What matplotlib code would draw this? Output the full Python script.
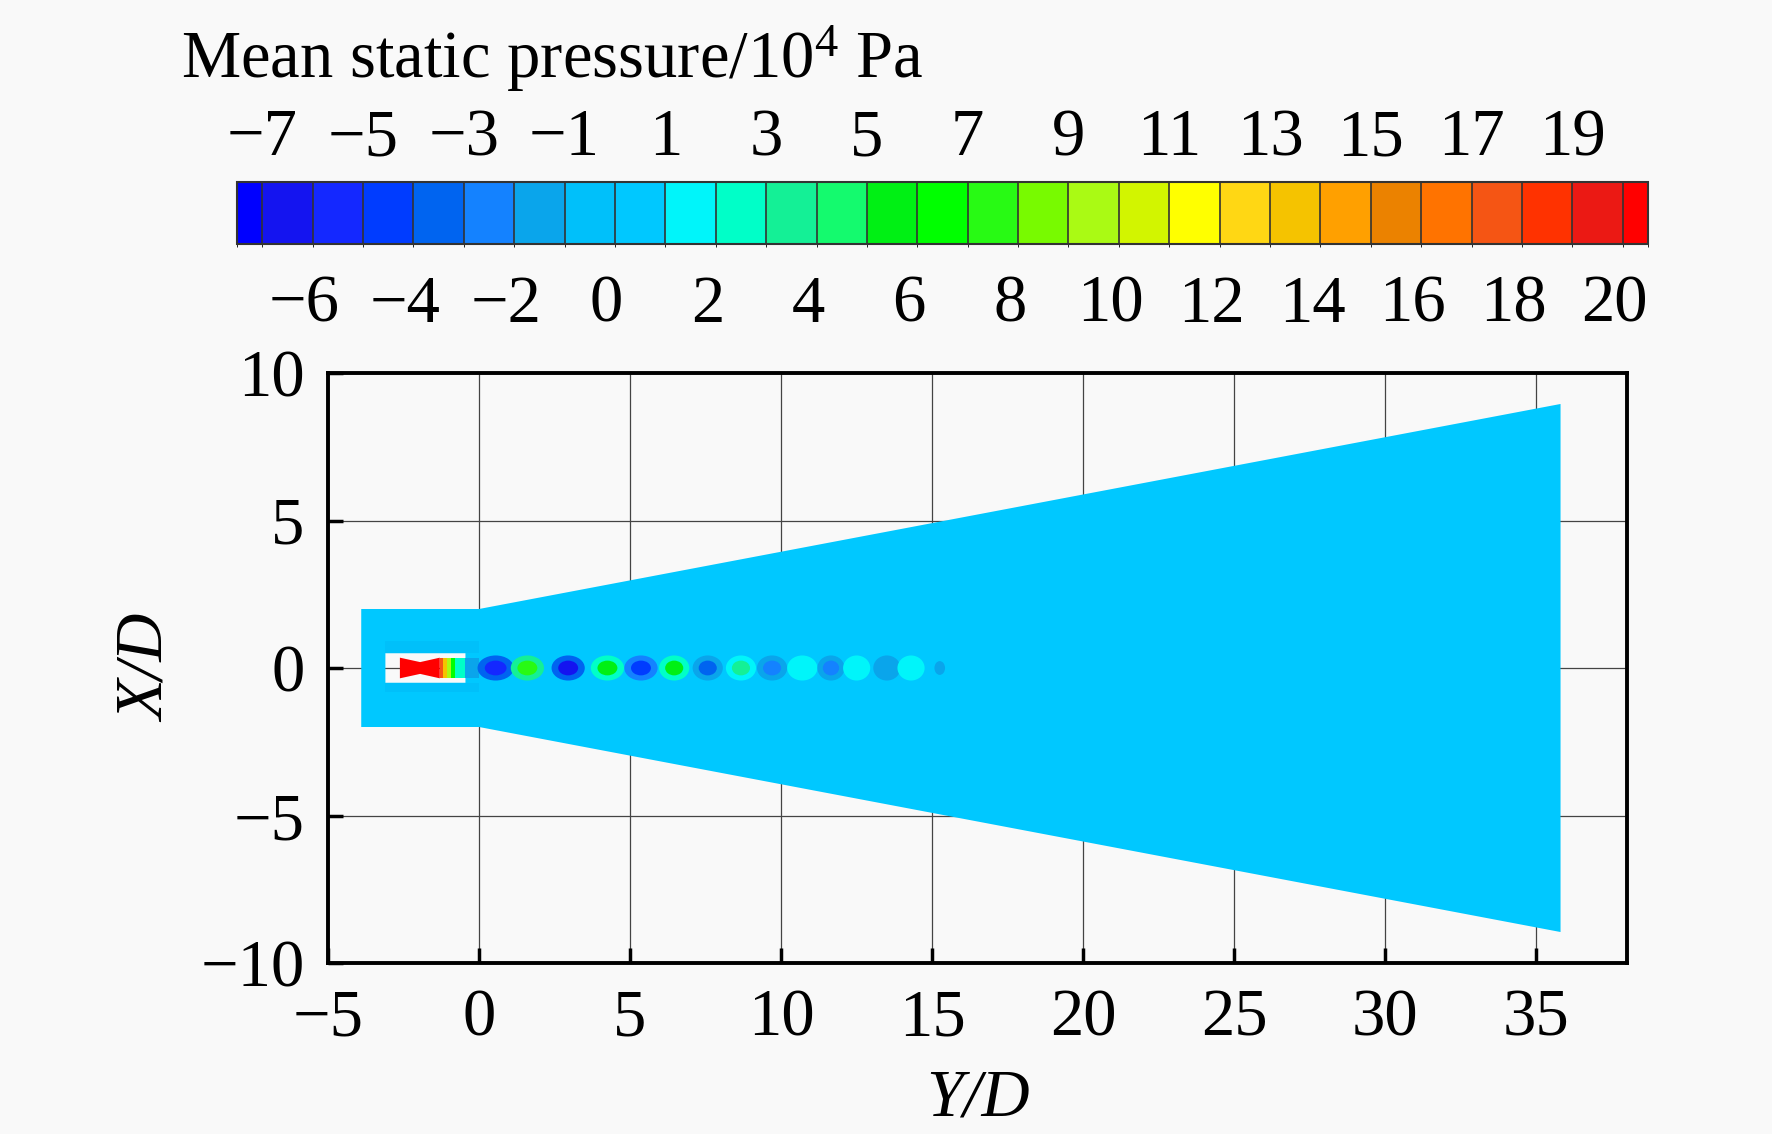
import numpy as np
import matplotlib
matplotlib.use("Agg")
import matplotlib.pyplot as plt
from matplotlib.colors import ListedColormap, BoundaryNorm
from matplotlib.patches import PathPatch, Polygon, Rectangle, Ellipse
from matplotlib.path import Path
import matplotlib.cm as cm

plt.rcParams['font.family'] = ['Liberation Serif', 'DejaVu Serif']
plt.rcParams['mathtext.fontset'] = 'custom'
plt.rcParams['mathtext.rm'] = 'Liberation Serif'
plt.rcParams['mathtext.it'] = 'Liberation Serif:italic'

# ---------------- data ----------------
# contour levels (10^4 Pa) and legend colours
level_bounds = [-7.5] + list(range(-7, 21)) + [20.5]
level_colors = [
    (0, 0, 255), (20, 20, 240), (20, 40, 255), (0, 60, 255), (0, 100, 240),
    (20, 130, 255), (10, 165, 235), (0, 192, 250), (0, 200, 255), (0, 245, 250),
    (0, 255, 200), (20, 240, 150), (20, 250, 110), (0, 240, 20), (0, 255, 0),
    (40, 250, 20), (120, 250, 0), (170, 250, 20), (210, 245, 0), (255, 255, 0),
    (255, 215, 20), (245, 195, 0), (255, 160, 0), (235, 130, 0), (255, 115, 0),
    (245, 85, 20), (255, 50, 0), (235, 25, 20), (255, 0, 0)]
top_ticks = [-7, -5, -3, -1, 1, 3, 5, 7, 9, 11, 13, 15, 17, 19]
bottom_ticks = [-6, -4, -2, 0, 2, 4, 6, 8, 10, 12, 14, 16, 18, 20]

# computational domain outline (Y/D, X/D)
domain_y = [-3.9, 0.0, 35.8, 35.8, 0.0, -3.9]
domain_x = [-2.0, -2.0, -8.95, 8.95, 2.0, 2.0]
ambient_pressure = 0.5

# nozzle (hole in the domain) and near-wall bands
nozzle_y = [-3.1, -0.45]
nozzle_x = [-0.5, 0.5]
band_value = -0.5

# nozzle core flow strips: start, end, value
core_start = [-1.30, -1.18, -1.06, -0.94, -0.80, -0.46]
core_end = [-1.18, -1.06, -0.94, -0.80, -0.46, 0.0]
core_value = [17.0, 13.0, 9.0, 6.0, 2.5, -1.5]
red_core_value = 20.2

# shock-cell spots along the jet axis
spot_y = [0.55, 1.6, 2.95, 4.25, 5.36, 6.46, 7.57, 8.67, 9.7, 10.7, 11.65, 12.5, 13.5, 14.3, 15.25]
spot_core = [-6.0, 7.5, -6.5, 5.5, -4.5, 5.0, -4.0, 3.5, -3.0, 1.5, -2.5, 1.5, -1.5, 1.5, -1.5]
spot_halo = [-3.5, 3.0, -3.5, 2.5, -2.5, 2.5, -2.0, 1.5, -1.5, 1.5, -1.5, 1.5, -1.5, 1.5, -1.5]
spot_len = [1.2, 1.1, 1.1, 1.1, 1.1, 1.0, 1.0, 1.0, 1.0, 1.0, 0.9, 0.9, 0.9, 0.9, 0.35]

x_ticks = [-5, 0, 5, 10, 15, 20, 25, 30, 35]
y_ticks = [-10, -5, 0, 5, 10]

# ---------------- figure ----------------
W, H = 1772, 1134
FS = 48
fig = plt.figure(figsize=(W / 100, H / 100), dpi=100)
bg = '#f9f9f9'
fig.patch.set_facecolor(bg)

cmap = ListedColormap(np.array(level_colors) / 255.0)
norm = BoundaryNorm(level_bounds, cmap.N)
col = lambda v: cmap(norm(v))

ax = fig.add_axes([328 / W, 1 - 963 / H, (1627 - 328) / W, (963 - 373) / H])
ax.set_facecolor(bg)
ax.set_xlim(-5, 38)
ax.set_ylim(-10, 10)
ax.set_axisbelow(True)
ax.grid(True, color='#444444', lw=0.9)
ax.set_xticks(x_ticks)
ax.set_yticks(y_ticks)

# domain with nozzle hole
outer = list(zip(domain_y, domain_x)) + [(domain_y[0], domain_x[0])]
inner = [(nozzle_y[0], nozzle_x[0]), (nozzle_y[0], nozzle_x[1]), (nozzle_y[1], nozzle_x[1]),
         (nozzle_y[1], nozzle_x[0]), (nozzle_y[0], nozzle_x[0])]
verts = outer + inner
codes = ([Path.MOVETO] + [Path.LINETO] * (len(outer) - 2) + [Path.CLOSEPOLY] +
         [Path.MOVETO] + [Path.LINETO] * (len(inner) - 2) + [Path.CLOSEPOLY])
ax.add_patch(PathPatch(Path(verts, codes), facecolor=col(ambient_pressure), edgecolor='none', zorder=1))

# bands above/below the nozzle wall
ax.add_patch(Rectangle((nozzle_y[0], nozzle_x[1]), 0 - nozzle_y[0], 0.4,
                       facecolor=col(band_value), edgecolor='none', zorder=1.5))
ax.add_patch(Rectangle((nozzle_y[0], nozzle_x[0] - 0.3), 0 - nozzle_y[0], 0.3,
                       facecolor=col(band_value), edgecolor='none', zorder=1.5))

# red converging-diverging core
ax.add_patch(Polygon([(-2.62, -0.35), (-1.95, -0.2), (-1.30, -0.35), (-1.30, 0.35), (-1.95, 0.2), (-2.62, 0.35)],
                     closed=True, facecolor=col(red_core_value), edgecolor='none', zorder=2))
for s, e, v in zip(core_start, core_end, core_value):
    ax.add_patch(Rectangle((s, -0.35), e - s, 0.7, facecolor=col(v), edgecolor='none', zorder=2))

# shock cells
for yc, vc, vh, ln in zip(spot_y, spot_core, spot_halo, spot_len):
    ax.add_patch(Ellipse((yc, 0), ln, 0.85 * min(1, ln + 0.2), facecolor=col(vh), edgecolor='none', zorder=3))
    ax.add_patch(Ellipse((yc, 0), ln * 0.6, 0.5 * min(1, ln + 0.2), facecolor=col(vc), edgecolor='none', zorder=4))

for sp in ax.spines.values():
    sp.set_linewidth(2.8)
ax.tick_params(direction='in', length=11, width=2.5, labelsize=FS, top=False, right=False)
ax.tick_params(axis='y', pad=17)
ax.tick_params(axis='x', pad=18)
ax.set_xlabel('Y/D', fontsize=FS, fontstyle='italic', labelpad=14)
ax.set_ylabel('X/D', fontsize=FS, fontstyle='italic', labelpad=16)

# ---------------- colour legend ----------------
cax = fig.add_axes([237 / W, 1 - 244.3 / H, (1648 - 237) / W, (244.3 - 181.7) / H])
sm = cm.ScalarMappable(norm=norm, cmap=cmap)
cbar = fig.colorbar(sm, cax=cax, orientation='horizontal', drawedges=True, spacing='proportional')
cbar.set_ticks([])
cbar.outline.set_linewidth(1.5)
cbar.outline.set_edgecolor('#333333')
cbar.dividers.set_color('#333333')
cbar.dividers.set_linewidth(1.2)
cax.set_xlim(-7.5, 20.5)

fmt = lambda v: ('\u2212%d' % -v) if v < 0 else '%d' % v
for v in top_ticks:
    cax.annotate(fmt(v), xy=(v, 1), xycoords=('data', 'axes fraction'), xytext=(0, 19),
                 textcoords='offset points', ha='center', va='baseline', fontsize=FS)
for v in bottom_ticks:
    cax.annotate(fmt(v), xy=(v, 0), xycoords=('data', 'axes fraction'), xytext=(-6, -55.7),
                 textcoords='offset points', ha='center', va='baseline', fontsize=FS)

fig.text(181 / W, 1 - 78.3 / H, 'Mean static pressure/10$^{4}$ Pa', ha='left', va='baseline', fontsize=FS)

fig.savefig('out.png', dpi=100, facecolor=bg)
